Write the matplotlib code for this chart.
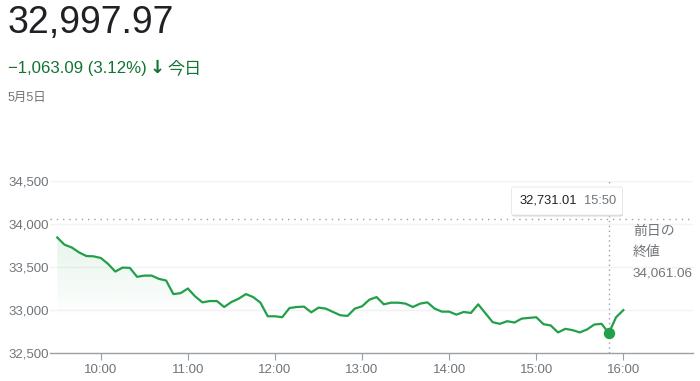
import numpy as np
import pandas as pd
import matplotlib
matplotlib.use('Agg')
import matplotlib.pyplot as plt
import matplotlib.dates as mdates
from matplotlib.patches import FancyBboxPatch

plt.rcParams['font.family'] = ['Liberation Sans', 'Noto Sans CJK JP', 'DejaVu Sans']

# 5-minute closes, 9:30 -> 16:00
times = pd.date_range('2022-05-05 09:30', '2022-05-05 16:00', freq='5min')
values = [33843, 33759, 33727, 33670, 33628, 33624, 33605, 33536, 33447, 33493,
          33490, 33386, 33400, 33400, 33362, 33343, 33185, 33196, 33250, 33158,
          33089, 33104, 33104, 33035, 33093, 33132, 33185, 33150, 33085, 32927,
          32927, 32916, 33023, 33035, 33039, 32973, 33028, 33016, 32977, 32939,
          32931, 33016, 33043, 33120, 33150, 33066, 33085, 33085, 33074, 33035,
          33074, 33089, 33016, 32981, 32981, 32946, 32977, 32966, 33066, 32962,
          32858, 32839, 32870, 32854, 32900, 32908, 32916, 32835, 32820, 32739,
          32781, 32766, 32739, 32774, 32831, 32839, 32731, 32916, 32998]

prev_close = 34061.06
hover_time = pd.Timestamp('2022-05-05 15:50')
hover_value = 32731.01
yticks = [32500, 33000, 33500, 34000, 34500]
xtick_labels = ['10:00', '11:00', '12:00', '13:00', '14:00', '15:00', '16:00']

GREEN = '#22a049'
DARK_GREEN = '#137333'
GRAY = '#70757a'

fig = plt.figure(figsize=(7, 3.81), dpi=100)
ax = fig.add_axes([50 / 700, 1 - 353 / 381, 643 / 700, 172 / 381])

x = mdates.date2num(times)
ax.set_xlim(mdates.date2num(pd.Timestamp('2022-05-05 09:25')),
            mdates.date2num(pd.Timestamp('2022-05-05 16:48')))
ax.set_ylim(32500, 34500)

# gridlines
for yv in yticks[1:]:
    ax.axhline(yv, color='#f1f3f4', lw=1, zorder=0)

# gradient fill under line
poly = ax.fill_between(x, values, 32500, color='none', lw=0)
grad = np.linspace(0, 1, 256)
img = np.zeros((256, 1, 4))
img[:, 0, 0] = 0x22 / 255
img[:, 0, 1] = 0xa0 / 255
img[:, 0, 2] = 0x49 / 255
img[:, 0, 3] = grad * 0.11
im = ax.imshow(img, aspect='auto', origin='lower',
               extent=[x[0], x[-1], 32900, max(values)], zorder=1)
clip = poly.get_paths()[0]
im.set_clip_path(clip, transform=ax.transData)

ax.plot(x, values, color=GREEN, lw=1.6, zorder=3, solid_joinstyle='round')
ax.plot(mdates.date2num(hover_time), hover_value, 'o', color=GREEN, ms=7.2, zorder=4)

# previous close and hover line
ax.axhline(prev_close, color='#9aa0a6', lw=1, ls=(0, (1, 3.5)), zorder=2)
ax.axvline(mdates.date2num(hover_time), color='#9aa0a6', lw=1, ls=(0, (1, 2.5)), zorder=2)

for s in ['top', 'right', 'left']:
    ax.spines[s].set_visible(False)
ax.spines['bottom'].set_color('#9aa0a6')
ax.spines['bottom'].set_linewidth(1)

ax.set_yticks(yticks)
ax.set_yticklabels([f'{v:,}' for v in yticks])
ax.tick_params(axis='y', length=0, pad=1, labelsize=9.5, labelcolor=GRAY)
xt = [mdates.date2num(pd.Timestamp(f'2022-05-05 {t}')) for t in xtick_labels]
ax.set_xticks(xt)
ax.set_xticklabels(xtick_labels)
ax.tick_params(axis='x', length=5, color='#9aa0a6', pad=3, labelsize=9.5, labelcolor=GRAY)

# header texts
fig.text(8 / 700, 1 - 23 / 381, '32,997.97', fontsize=27, color='#202124', va='center')
fig.text(8 / 700, 1 - 68 / 381, '\u22121,063.09 (3.12%)', fontsize=12.1, color=DARK_GREEN, va='center')
fig.text(150 / 700, 1 - 68 / 381, '\u2193', fontsize=13, color=DARK_GREEN, va='center',
         fontweight='bold', family=['DejaVu Sans'])
fig.text(167 / 700, 1 - 68 / 381, '今日', fontsize=12.3, color=DARK_GREEN, va='center')
fig.text(8 / 700, 1 - 98 / 381, '5月5日', fontsize=9, color=GRAY, va='center')

# previous close label
fig.text(633 / 700, 1 - 231 / 381, '前日の', fontsize=10, color=GRAY, va='center')
fig.text(633 / 700, 1 - 252 / 381, '終値', fontsize=10, color=GRAY, va='center')
fig.text(633 / 700, 1 - 273 / 381, f'{prev_close:,.2f}', fontsize=9.7, color=GRAY, va='center')

# tooltip
shadow = FancyBboxPatch((512 / 700, 1 - 216.5 / 381), 111 / 700, 28 / 381,
                        boxstyle='round,pad=0,rounding_size=0.004',
                        transform=fig.transFigure, fc='#d8d8d8', ec='none', zorder=5)
box = FancyBboxPatch((511.5 / 700, 1 - 215 / 381), 111 / 700, 28 / 381,
                     boxstyle='round,pad=0,rounding_size=0.004',
                     transform=fig.transFigure, fc='white', ec='#e6e6e6', lw=0.6, zorder=6)
fig.patches.extend([shadow, box])
fig.text(520 / 700, 1 - 201 / 381, f'{hover_value:,.2f}', fontsize=9.3, color='#202124',
         va='center', zorder=7)
fig.text(584 / 700, 1 - 201 / 381, hover_time.strftime('%H:%M'), fontsize=9.3, color=GRAY,
         va='center', zorder=7)

fig.savefig('out.png', dpi=100)
